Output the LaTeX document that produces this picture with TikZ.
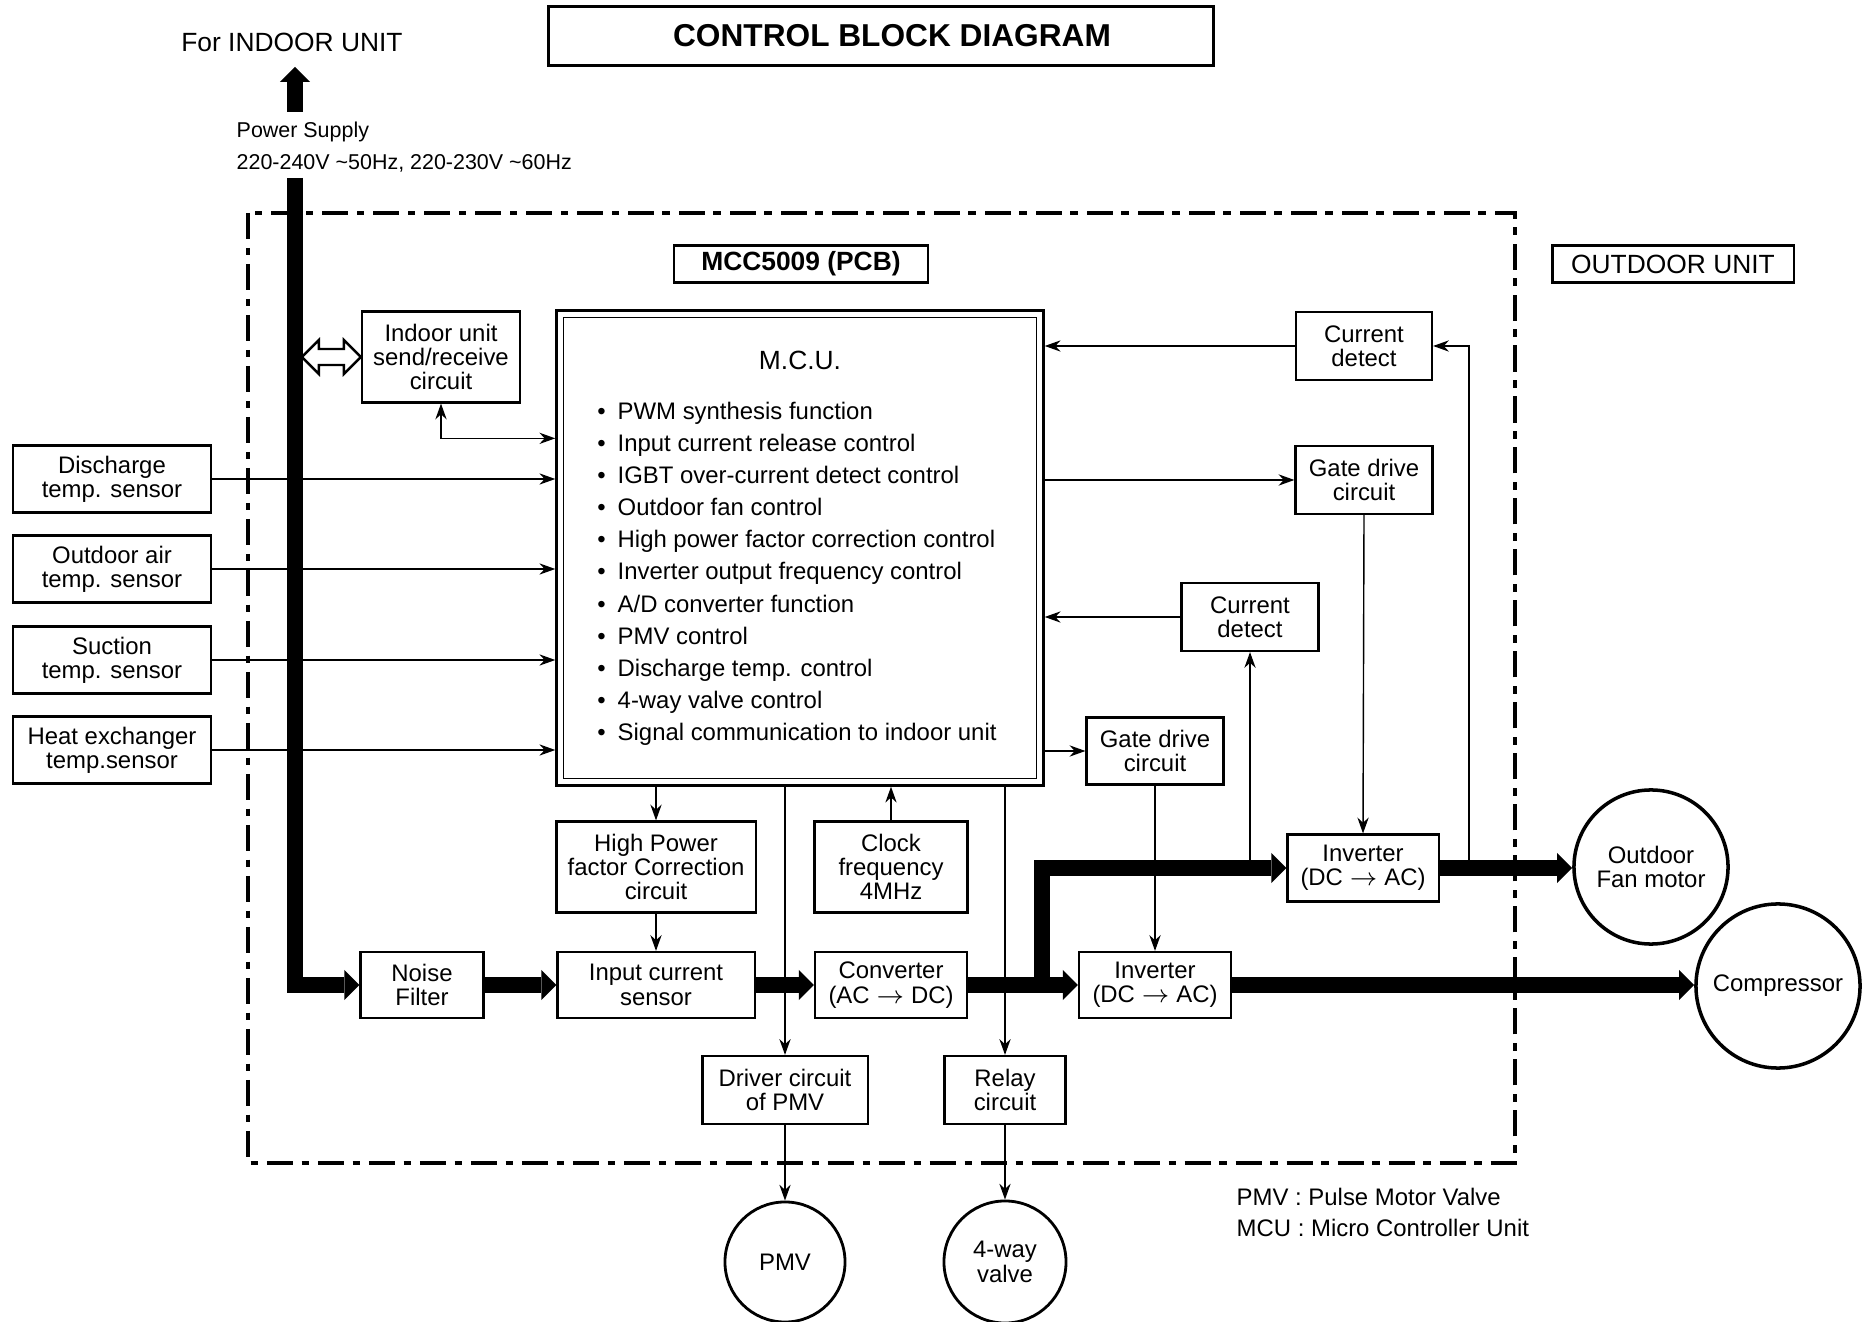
\documentclass[tikz,border=0pt]{standalone}
\usepackage{fontspec}
\setmainfont{Liberation Sans}
\usetikzlibrary{arrows.meta,calc}

\tikzset{
  box/.style={draw, line width=0.6pt, inner sep=0pt, align=center,
    font=\fontsize{6.8}{6.9}\selectfont},
  sig/.style={line width=0.4pt, ->},
  power/.style={line width=0.16cm, line join=miter,
    -{Triangle[width=0.3cm,length=0.15cm,line width=0pt]}},
  frame/.style={line width=1.1pt, dash pattern=on 7.4pt off 2.5pt on 2.1pt off 2.5pt},
  load/.style={draw, circle, line width=1pt, inner sep=0pt, align=center,
    font=\fontsize{6.8}{6.9}\selectfont},
  txt/.style={inner sep=0pt, font=\fontsize{6.8}{8}\selectfont},
}

\begin{document}
\begin{tikzpicture}[x=0.01cm, y=-0.01cm, >={Stealth[length=4.5pt,width=3.2pt]}]
  \useasboundingbox (0,0) rectangle (1863,1322);

  % headings
  \node[box, line width=0.7pt, minimum width=6.65cm, minimum height=0.59cm,
        font=\fontsize{9}{10}\selectfont\bfseries] (title) at (881,36) {\hspace{0.22cm}CONTROL BLOCK DIAGRAM};
  \node[txt, font=\fontsize{7.5}{8}\selectfont] (indoorlbl) at (292,42) {For INDOOR UNIT};
  \node[txt, anchor=west, font=\fontsize{6.1}{7}\selectfont] (pslbl) at (236,132) {Power Supply};
  \node[txt, anchor=west, font=\fontsize{6.1}{7}\selectfont] (pvlbl) at (236,163)
    {220-240V \textasciitilde50Hz, 220-230V \textasciitilde60Hz};

  % outdoor unit frame
  \draw[frame] (248,213) rectangle (1515,1163);
  \node[box, minimum width=2.54cm, minimum height=0.37cm,
        font=\fontsize{7.5}{8}\selectfont\bfseries] (pcb) at (801,264) {MCC5009 (PCB)};
  \node[box, minimum width=2.41cm, minimum height=0.37cm,
        font=\fontsize{7.5}{8}\selectfont] (outdoor) at (1673,264) {OUTDOOR UNIT};

  % M.C.U.
  \node[draw, line width=0.9pt, minimum width=4.86cm, minimum height=4.74cm] (mcu) at (800,548) {};
  \draw[line width=0.3pt] ([shift={(8,8)}]mcu.north west) rectangle ([shift={(-8,-8)}]mcu.south east);
  \node[txt, font=\fontsize{7.5}{8}\selectfont] (mcutitle) at (800,360) {M.C.U.};
  \foreach \f [count=\i] in {PWM synthesis function, Input current release control,
      IGBT over-current detect control, Outdoor fan control,
      High power factor correction control, Inverter output frequency control,
      A/D converter function, PMV control, Discharge temp. control,
      4-way valve control, Signal communication to indoor unit}
    \node[txt, anchor=base west] (f\i) at (617,{387.4+32.1*\i}) {\llap{\textbullet\hspace{0.12cm}}\f};

  % left side
  \node[box, minimum width=1.58cm, minimum height=0.91cm] (isr) at (441,357) {Indoor unit\\send/receive\\circuit};
  \node[box, minimum width=1.97cm, minimum height=0.67cm] (s1) at (112,479) {Discharge\\temp. sensor};
  \node[box, minimum width=1.97cm, minimum height=0.67cm] (s2) at (112,569) {Outdoor air\\temp. sensor};
  \node[box, minimum width=1.97cm, minimum height=0.67cm] (s3) at (112,660) {Suction\\temp. sensor};
  \node[box, minimum width=1.97cm, minimum height=0.67cm] (s4) at (112,750) {Heat exchanger\\temp.sensor};

  % right side
  \node[box, minimum width=1.36cm, minimum height=0.68cm] (cd1) at (1364,346) {Current\\detect};
  \node[box, minimum width=1.37cm, minimum height=0.68cm] (gd1) at (1364,480) {Gate drive\\circuit};
  \node[box, minimum width=1.37cm, minimum height=0.68cm] (cd2) at (1250,617) {Current\\detect};
  \node[box, minimum width=1.37cm, minimum height=0.67cm] (gd2) at (1155,751) {Gate drive\\circuit};
  \node[box, minimum width=1.51cm, minimum height=0.67cm] (inv1) at (1363,868) {Inverter\\(DC $\rightarrow$ AC)};
  \node[box, minimum width=1.52cm, minimum height=0.66cm] (inv2) at (1155,985) {Inverter\\(DC $\rightarrow$ AC)};

  % bottom row
  \node[box, minimum width=1.99cm, minimum height=0.91cm] (hpfc) at (656,867) {High Power\\factor Correction\\circuit};
  \node[box, minimum width=1.53cm, minimum height=0.91cm] (clk) at (891,867) {Clock\\frequency\\4MHz};
  \node[box, minimum width=1.23cm, minimum height=0.66cm] (nf) at (422,985) {Noise\\Filter};
  \node[box, minimum width=1.97cm, minimum height=0.66cm] (ics) at (656,985) {Input current\\sensor};
  \node[box, minimum width=1.52cm, minimum height=0.66cm] (conv) at (891,985) {Converter\\(AC $\rightarrow$ DC)};
  \node[box, minimum width=1.65cm, minimum height=0.68cm] (drv) at (785,1090) {Driver circuit\\of PMV};
  \node[box, minimum width=1.21cm, minimum height=0.68cm] (rly) at (1005,1090) {Relay\\circuit};

  % loads
  \node[load, minimum size=1.20cm, line width=0.8pt] (pmv) at (785,1262) {PMV};
  \node[load, minimum size=1.22cm, line width=0.8pt] (valve) at (1005,1262) {4-way\\valve};
  \node[load, minimum size=1.54cm] (fan) at (1651,867) {Outdoor\\Fan motor};
  \node[load, minimum size=1.64cm] (comp) at (1778,986) {Compressor};

  \node[txt, anchor=west] (note1) at (1236,1197) {PMV : Pulse Motor Valve};
  \node[txt, anchor=west] (note2) at (1236,1228) {MCU : Micro Controller Unit};

  % signals
  \draw[sig, <->] (isr.south) |- ([yshift=-1.29cm]mcu.north west);
  \foreach \s in {s1,s2,s3,s4}
    \draw[sig] (\s.east) -- (\s.east -| mcu.west);
  \draw[sig] (cd1.west) -- (cd1.west -| mcu.east);
  \draw[sig] (gd1.west -| mcu.east) -- (gd1.west);
  \draw[sig] (cd2.west) -- (cd2.west -| mcu.east);
  \draw[sig] (gd2.west -| mcu.east) -- (gd2.west);
  \draw[sig] (gd1.south) -- (inv1.north);
  \draw[sig] (gd2.south) -- (inv2.north);
  \draw[sig] (cd2.south |- inv1.west) -- (cd2.south);
  \coordinate (tapfan) at (1469,868);
  \draw[sig] (tapfan) |- (cd1.east);
  \draw[sig] (mcu.south -| hpfc.north) -- (hpfc.north);
  \draw[sig] (hpfc.south) -- (ics.north);
  \draw[sig] (clk.north) -- (mcu.south -| clk.north);
  \draw[sig] (mcu.south -| drv.north) -- (drv.north);
  \draw[sig] (mcu.south -| rly.north) -- (rly.north);
  \draw[sig] (drv.south) -- (pmv.north);
  \draw[sig] (rly.south) -- (valve.north);

  % power
  \coordinate (psup) at (295,112);
  \coordinate (indoor) at (295,67);
  \coordinate (psin) at (295,178);
  \coordinate (split) at (1042,985);
  \draw[power] (psup) -- (indoor);
  \draw[power] (psin) |- (nf.west);
  \draw[power] (nf.east) -- (ics.west);
  \draw[power] (ics.east) -- (conv.west);
  \draw[power] (conv.east) -- (inv2.west);
  \draw[power] (split) |- (inv1.west);
  \draw[power] (inv1.east) -- (inv1.east -| fan.west);
  \draw[power] (inv2.east) -- (inv2.east -| comp.west);

  % send/receive link
  \draw[line width=0.7pt, fill=white] ([xshift=-0.59cm]isr.west) -- ++(17,-17) -- ++(0,9)
    -- ++(25,0) -- ++(0,-9) -- (isr.west) -- ++(-17,17) -- ++(0,-9) -- ++(-25,0) -- ++(0,9) -- cycle;
\end{tikzpicture}
\end{document}
